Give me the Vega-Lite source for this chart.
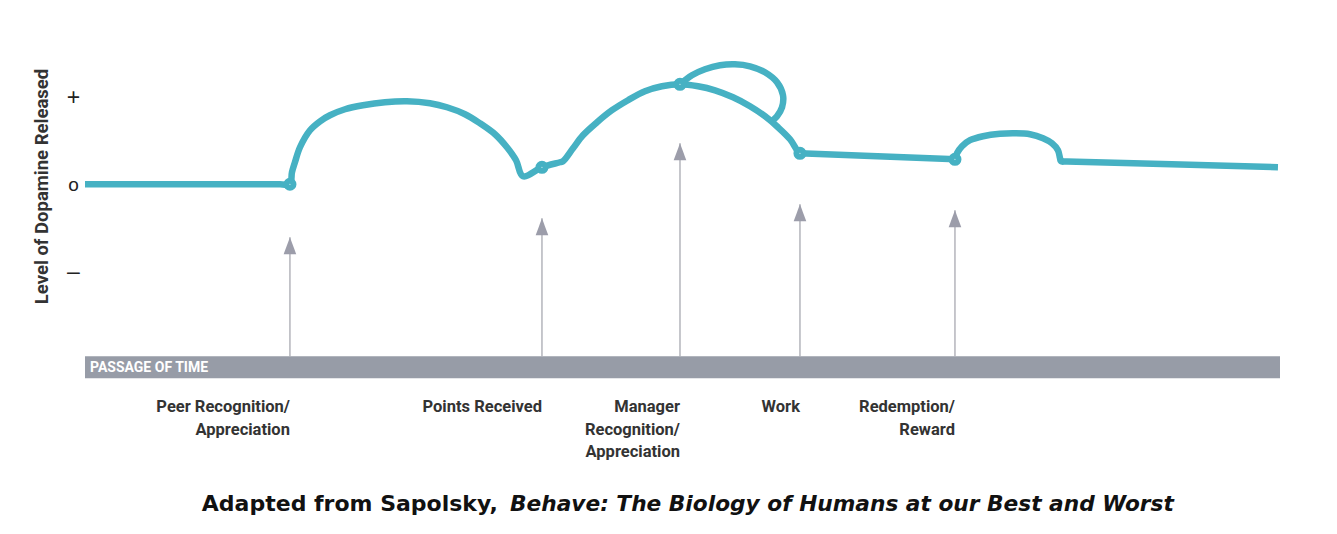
{
  "$schema": "https://vega.github.io/schema/vega-lite/v6.json",
  "width": 1195,
  "height": 348,
  "autosize": {"type": "none"},
  "padding": {"left": 85, "top": 32, "right": 57, "bottom": 154},
  "background": "white",
  "config": {"view": {"stroke": null}},
  "datasets": {
    "curve": [
      {"seg": "main", "i": 0, "t": 0, "level": 0},
      {"seg": "main", "i": 1, "t": 16.32, "level": 0},
      {"seg": "main", "i": 2, "t": 17.15, "level": 0},
      {"seg": "main", "i": 3, "t": 17.32, "level": 0.138},
      {"seg": "main", "i": 4, "t": 17.57, "level": 0.253},
      {"seg": "main", "i": 5, "t": 17.99, "level": 0.425},
      {"seg": "main", "i": 6, "t": 18.83, "level": 0.621},
      {"seg": "main", "i": 7, "t": 19.67, "level": 0.724},
      {"seg": "main", "i": 8, "t": 20.50, "level": 0.793},
      {"seg": "main", "i": 9, "t": 21.76, "level": 0.862},
      {"seg": "main", "i": 10, "t": 23.26, "level": 0.908},
      {"seg": "main", "i": 11, "t": 25.10, "level": 0.943},
      {"seg": "main", "i": 12, "t": 26.95, "level": 0.954},
      {"seg": "main", "i": 13, "t": 28.87, "level": 0.931},
      {"seg": "main", "i": 14, "t": 30.29, "level": 0.885},
      {"seg": "main", "i": 15, "t": 31.80, "level": 0.805},
      {"seg": "main", "i": 16, "t": 33.05, "level": 0.701},
      {"seg": "main", "i": 17, "t": 34.31, "level": 0.575},
      {"seg": "main", "i": 18, "t": 35.31, "level": 0.425},
      {"seg": "main", "i": 19, "t": 36.07, "level": 0.276},
      {"seg": "main", "i": 20, "t": 36.65, "level": 0.092},
      {"seg": "main", "i": 21, "t": 38.24, "level": 0.195},
      {"seg": "main", "i": 22, "t": 39.75, "level": 0.253},
      {"seg": "main", "i": 23, "t": 40.00, "level": 0.264},
      {"seg": "main", "i": 24, "t": 40.84, "level": 0.414},
      {"seg": "main", "i": 25, "t": 41.67, "level": 0.563},
      {"seg": "main", "i": 26, "t": 42.85, "level": 0.713},
      {"seg": "main", "i": 27, "t": 44.10, "level": 0.851},
      {"seg": "main", "i": 28, "t": 45.44, "level": 0.966},
      {"seg": "main", "i": 29, "t": 46.86, "level": 1.069},
      {"seg": "main", "i": 30, "t": 48.28, "level": 1.126},
      {"seg": "main", "i": 31, "t": 49.79, "level": 1.149},
      {"seg": "main", "i": 32, "t": 51.30, "level": 1.126},
      {"seg": "main", "i": 33, "t": 52.72, "level": 1.080},
      {"seg": "main", "i": 34, "t": 54.23, "level": 1.000},
      {"seg": "main", "i": 35, "t": 55.65, "level": 0.897},
      {"seg": "main", "i": 36, "t": 56.90, "level": 0.782},
      {"seg": "main", "i": 37, "t": 57.99, "level": 0.655},
      {"seg": "main", "i": 38, "t": 59.00, "level": 0.517},
      {"seg": "main", "i": 39, "t": 59.83, "level": 0.356},
      {"seg": "main", "i": 40, "t": 60.33, "level": 0.353},
      {"seg": "main", "i": 41, "t": 72.30, "level": 0.290},
      {"seg": "main", "i": 42, "t": 72.80, "level": 0.287},
      {"seg": "main", "i": 43, "t": 72.97, "level": 0.356},
      {"seg": "main", "i": 44, "t": 73.39, "level": 0.437},
      {"seg": "main", "i": 45, "t": 74.06, "level": 0.506},
      {"seg": "main", "i": 46, "t": 75.15, "level": 0.552},
      {"seg": "main", "i": 47, "t": 76.57, "level": 0.580},
      {"seg": "main", "i": 48, "t": 77.82, "level": 0.586},
      {"seg": "main", "i": 49, "t": 79.08, "level": 0.575},
      {"seg": "main", "i": 50, "t": 80.17, "level": 0.529},
      {"seg": "main", "i": 51, "t": 80.92, "level": 0.471},
      {"seg": "main", "i": 52, "t": 81.42, "level": 0.391},
      {"seg": "main", "i": 53, "t": 81.59, "level": 0.299},
      {"seg": "main", "i": 54, "t": 81.67, "level": 0.264},
      {"seg": "main", "i": 55, "t": 82.18, "level": 0.262},
      {"seg": "main", "i": 56, "t": 99.83, "level": 0.195},
      {"seg": "loop", "i": 0, "t": 49.79, "level": 1.149},
      {"seg": "loop", "i": 1, "t": 50.79, "level": 1.253},
      {"seg": "loop", "i": 2, "t": 51.88, "level": 1.322},
      {"seg": "loop", "i": 3, "t": 53.14, "level": 1.368},
      {"seg": "loop", "i": 4, "t": 54.39, "level": 1.379},
      {"seg": "loop", "i": 5, "t": 55.65, "level": 1.356},
      {"seg": "loop", "i": 6, "t": 56.90, "level": 1.287},
      {"seg": "loop", "i": 7, "t": 57.91, "level": 1.172},
      {"seg": "loop", "i": 8, "t": 58.41, "level": 1.023},
      {"seg": "loop", "i": 9, "t": 58.33, "level": 0.885},
      {"seg": "loop", "i": 10, "t": 57.91, "level": 0.782},
      {"seg": "loop", "i": 11, "t": 57.57, "level": 0.736}
    ],
    "events": [
      {"event": "Peer Recognition/\nAppreciation", "t": 17.15, "level": 0, "cue": -0.609},
      {"event": "Points Received", "t": 38.24, "level": 0.195, "cue": -0.391},
      {"event": "Manager\nRecognition/\nAppreciation", "t": 49.79, "level": 1.149, "cue": 0.471},
      {"event": "Work", "t": 59.83, "level": 0.356, "cue": -0.230},
      {"event": "Redemption/\nReward", "t": 72.80, "level": 0.287, "cue": -0.299}
    ],
    "band": [
      {"name": "PASSAGE OF TIME", "start": 0, "end": 100}
    ],
    "caption": [
      {"part": "Adapted from Sapolsky,", "kind": "plain"},
      {"part": "Behave: The Biology of Humans at our Best and Worst", "kind": "title"}
    ]
  },
  "layer": [
    {
      "data": {"name": "band"},
      "mark": {"type": "rect", "color": "#979ca7"},
      "encoding": {
        "x": {"field": "start", "type": "quantitative", "axis": null, "scale": {"domain": [0, 100], "nice": false, "zero": false}},
        "x2": {"field": "end"},
        "y": {"datum": -1.977, "type": "quantitative", "scale": {"domain": [-2.25, 1.75], "nice": false, "zero": false},
          "axis": {"values": [1, 0, -1], "labelExpr": "datum.value === 1 ? '+' : (datum.value === 0 ? 'o' : '\u2013')", "domain": false, "ticks": false, "grid": false, "labelAlign": "center", "labelBaseline": "middle", "labelPadding": 12, "labelFont": "Liberation Sans", "labelFontSize": {"condition": {"test": "datum.value === 0", "value": 19}, "value": 23}, "labelColor": "#222222", "title": "Level of Dopamine Released", "titleFont": "Roboto", "titleFontWeight": "bold", "titleFontSize": 18.5, "titleColor": "#333333", "titleAngle": -90, "titleAlign": "center", "titleBaseline": "alphabetic", "titleX": -38, "titleY": 154}},
        "y2": {"datum": -2.23}
      }
    },
    {
      "data": {"name": "band"},
      "mark": {"type": "text", "align": "left", "baseline": "middle", "dx": 5, "dy": 1, "color": "white", "font": "Roboto", "fontWeight": "bold", "fontSize": 14},
      "encoding": {
        "x": {"field": "start", "type": "quantitative", "axis": null, "scale": {"domain": [0, 100], "nice": false, "zero": false}},
        "y": {"datum": -2.1035, "type": "quantitative", "scale": {"domain": [-2.25, 1.75], "nice": false, "zero": false},
          "axis": {"values": [1, 0, -1], "labelExpr": "datum.value === 1 ? '+' : (datum.value === 0 ? 'o' : '\u2013')", "domain": false, "ticks": false, "grid": false, "labelAlign": "center", "labelBaseline": "middle", "labelPadding": 12, "labelFont": "Liberation Sans", "labelFontSize": {"condition": {"test": "datum.value === 0", "value": 19}, "value": 23}, "labelColor": "#222222", "title": "Level of Dopamine Released", "titleFont": "Roboto", "titleFontWeight": "bold", "titleFontSize": 18.5, "titleColor": "#333333", "titleAngle": -90, "titleAlign": "center", "titleBaseline": "alphabetic", "titleX": -38, "titleY": 154}},
        "text": {"field": "name"}
      }
    },
    {
      "data": {"name": "events"},
      "mark": {"type": "rule", "color": "#a8a9b1", "strokeWidth": 1.3},
      "encoding": {
        "x": {"field": "t", "type": "quantitative", "axis": null, "scale": {"domain": [0, 100], "nice": false, "zero": false}},
        "y": {"field": "cue", "type": "quantitative", "scale": {"domain": [-2.25, 1.75], "nice": false, "zero": false},
          "axis": {"values": [1, 0, -1], "labelExpr": "datum.value === 1 ? '+' : (datum.value === 0 ? 'o' : '\u2013')", "domain": false, "ticks": false, "grid": false, "labelAlign": "center", "labelBaseline": "middle", "labelPadding": 12, "labelFont": "Liberation Sans", "labelFontSize": {"condition": {"test": "datum.value === 0", "value": 19}, "value": 23}, "labelColor": "#222222", "title": "Level of Dopamine Released", "titleFont": "Roboto", "titleFontWeight": "bold", "titleFontSize": 18.5, "titleColor": "#333333", "titleAngle": -90, "titleAlign": "center", "titleBaseline": "alphabetic", "titleX": -38, "titleY": 154}},
        "y2": {"datum": -1.977}
      }
    },
    {
      "data": {"name": "events"},
      "mark": {"type": "point", "filled": true, "opacity": 1, "color": "#9c9daa", "size": 324, "shape": "M0,0L0.7,1.9L-0.7,1.9Z"},
      "encoding": {
        "x": {"field": "t", "type": "quantitative", "axis": null, "scale": {"domain": [0, 100], "nice": false, "zero": false}},
        "y": {"field": "cue", "type": "quantitative", "scale": {"domain": [-2.25, 1.75], "nice": false, "zero": false},
          "axis": {"values": [1, 0, -1], "labelExpr": "datum.value === 1 ? '+' : (datum.value === 0 ? 'o' : '\u2013')", "domain": false, "ticks": false, "grid": false, "labelAlign": "center", "labelBaseline": "middle", "labelPadding": 12, "labelFont": "Liberation Sans", "labelFontSize": {"condition": {"test": "datum.value === 0", "value": 19}, "value": 23}, "labelColor": "#222222", "title": "Level of Dopamine Released", "titleFont": "Roboto", "titleFontWeight": "bold", "titleFontSize": 18.5, "titleColor": "#333333", "titleAngle": -90, "titleAlign": "center", "titleBaseline": "alphabetic", "titleX": -38, "titleY": 154}}
      }
    },
    {
      "data": {"name": "curve"},
      "mark": {"type": "line", "color": "#46b1c3", "strokeWidth": 6.5, "interpolate": "catmull-rom", "strokeJoin": "miter", "strokeCap": "butt"},
      "encoding": {
        "x": {"field": "t", "type": "quantitative", "axis": null, "scale": {"domain": [0, 100], "nice": false, "zero": false}},
        "y": {"field": "level", "type": "quantitative", "scale": {"domain": [-2.25, 1.75], "nice": false, "zero": false},
          "axis": {"values": [1, 0, -1], "labelExpr": "datum.value === 1 ? '+' : (datum.value === 0 ? 'o' : '\u2013')", "domain": false, "ticks": false, "grid": false, "labelAlign": "center", "labelBaseline": "middle", "labelPadding": 12, "labelFont": "Liberation Sans", "labelFontSize": {"condition": {"test": "datum.value === 0", "value": 19}, "value": 23}, "labelColor": "#222222", "title": "Level of Dopamine Released", "titleFont": "Roboto", "titleFontWeight": "bold", "titleFontSize": 18.5, "titleColor": "#333333", "titleAngle": -90, "titleAlign": "center", "titleBaseline": "alphabetic", "titleX": -38, "titleY": 154}},
        "detail": {"field": "seg"},
        "order": {"field": "i", "type": "quantitative"}
      }
    },
    {
      "data": {"name": "events"},
      "mark": {"type": "point", "shape": "circle", "filled": false, "fill": "white", "opacity": 1, "color": "#46b1c3", "strokeWidth": 6, "size": 50},
      "encoding": {
        "x": {"field": "t", "type": "quantitative", "axis": null, "scale": {"domain": [0, 100], "nice": false, "zero": false}},
        "y": {"field": "level", "type": "quantitative", "scale": {"domain": [-2.25, 1.75], "nice": false, "zero": false},
          "axis": {"values": [1, 0, -1], "labelExpr": "datum.value === 1 ? '+' : (datum.value === 0 ? 'o' : '\u2013')", "domain": false, "ticks": false, "grid": false, "labelAlign": "center", "labelBaseline": "middle", "labelPadding": 12, "labelFont": "Liberation Sans", "labelFontSize": {"condition": {"test": "datum.value === 0", "value": 19}, "value": 23}, "labelColor": "#222222", "title": "Level of Dopamine Released", "titleFont": "Roboto", "titleFontWeight": "bold", "titleFontSize": 18.5, "titleColor": "#333333", "titleAngle": -90, "titleAlign": "center", "titleBaseline": "alphabetic", "titleX": -38, "titleY": 154}}
      }
    },
    {
      "data": {"name": "events"},
      "mark": {"type": "text", "align": "right", "baseline": "alphabetic", "lineBreak": "\n", "lineHeight": 22.5, "color": "#333333", "font": "Roboto", "fontWeight": "bold", "fontSize": 16.5},
      "encoding": {
        "x": {"field": "t", "type": "quantitative", "axis": null, "scale": {"domain": [0, 100], "nice": false, "zero": false}},
        "y": {"datum": -2.621, "type": "quantitative", "scale": {"domain": [-2.25, 1.75], "nice": false, "zero": false},
          "axis": {"values": [1, 0, -1], "labelExpr": "datum.value === 1 ? '+' : (datum.value === 0 ? 'o' : '\u2013')", "domain": false, "ticks": false, "grid": false, "labelAlign": "center", "labelBaseline": "middle", "labelPadding": 12, "labelFont": "Liberation Sans", "labelFontSize": {"condition": {"test": "datum.value === 0", "value": 19}, "value": 23}, "labelColor": "#222222", "title": "Level of Dopamine Released", "titleFont": "Roboto", "titleFontWeight": "bold", "titleFontSize": 18.5, "titleColor": "#333333", "titleAngle": -90, "titleAlign": "center", "titleBaseline": "alphabetic", "titleX": -38, "titleY": 154}},
        "text": {"field": "event"}
      }
    },
    {
      "data": {"name": "caption"},
      "transform": [{"filter": "datum.kind === 'plain'"}],
      "mark": {"type": "text", "align": "right", "baseline": "alphabetic", "dx": -6, "color": "#111111", "font": "DejaVu Sans", "fontWeight": "bold", "fontSize": 22},
      "encoding": {
        "x": {"datum": 35.06, "type": "quantitative", "axis": null, "scale": {"domain": [0, 100], "nice": false, "zero": false}},
        "y": {"datum": -3.759, "type": "quantitative", "scale": {"domain": [-2.25, 1.75], "nice": false, "zero": false},
          "axis": {"values": [1, 0, -1], "labelExpr": "datum.value === 1 ? '+' : (datum.value === 0 ? 'o' : '\u2013')", "domain": false, "ticks": false, "grid": false, "labelAlign": "center", "labelBaseline": "middle", "labelPadding": 12, "labelFont": "Liberation Sans", "labelFontSize": {"condition": {"test": "datum.value === 0", "value": 19}, "value": 23}, "labelColor": "#222222", "title": "Level of Dopamine Released", "titleFont": "Roboto", "titleFontWeight": "bold", "titleFontSize": 18.5, "titleColor": "#333333", "titleAngle": -90, "titleAlign": "center", "titleBaseline": "alphabetic", "titleX": -38, "titleY": 154}},
        "text": {"field": "part"}
      }
    },
    {
      "data": {"name": "caption"},
      "transform": [{"filter": "datum.kind === 'title'"}],
      "mark": {"type": "text", "align": "left", "baseline": "alphabetic", "dx": 6, "color": "#111111", "font": "DejaVu Sans", "fontWeight": "bold", "fontStyle": "italic", "fontSize": 21.7},
      "encoding": {
        "x": {"datum": 35.06, "type": "quantitative", "axis": null, "scale": {"domain": [0, 100], "nice": false, "zero": false}},
        "y": {"datum": -3.759, "type": "quantitative", "scale": {"domain": [-2.25, 1.75], "nice": false, "zero": false},
          "axis": {"values": [1, 0, -1], "labelExpr": "datum.value === 1 ? '+' : (datum.value === 0 ? 'o' : '\u2013')", "domain": false, "ticks": false, "grid": false, "labelAlign": "center", "labelBaseline": "middle", "labelPadding": 12, "labelFont": "Liberation Sans", "labelFontSize": {"condition": {"test": "datum.value === 0", "value": 19}, "value": 23}, "labelColor": "#222222", "title": "Level of Dopamine Released", "titleFont": "Roboto", "titleFontWeight": "bold", "titleFontSize": 18.5, "titleColor": "#333333", "titleAngle": -90, "titleAlign": "center", "titleBaseline": "alphabetic", "titleX": -38, "titleY": 154}},
        "text": {"field": "part"}
      }
    }
  ]
}
